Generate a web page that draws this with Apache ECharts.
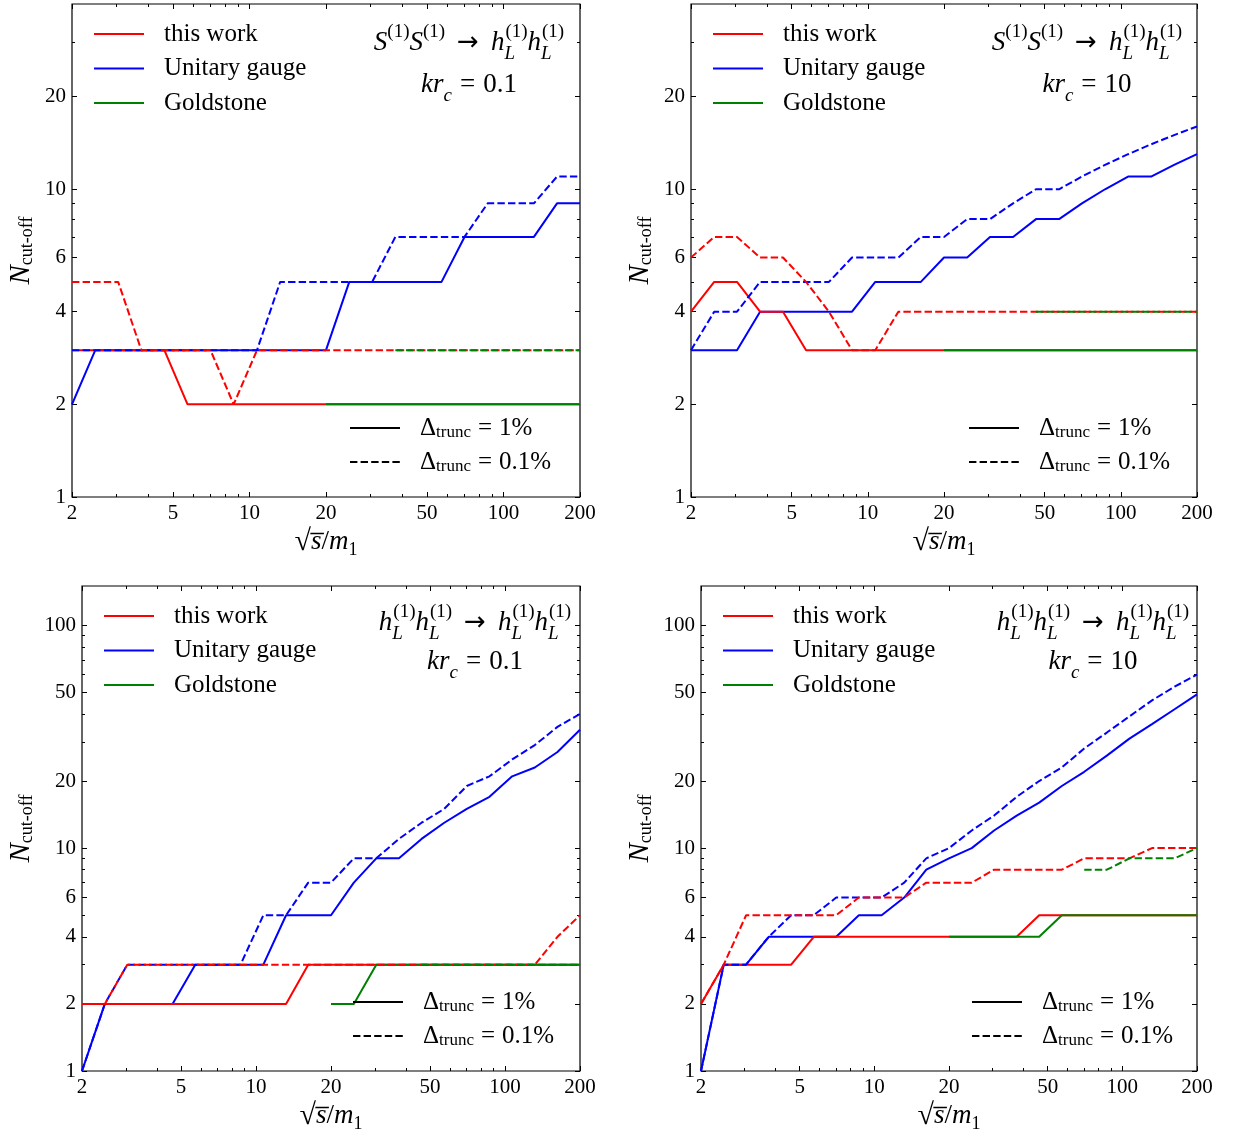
<!DOCTYPE html>
<html>
<head>
<meta charset="utf-8">
<script src="https://cdn.jsdelivr.net/npm/echarts@6/dist/echarts.min.js"></script>
<style>
html, body { margin: 0; padding: 0; background: #ffffff; }
#chart { width: 1233px; height: 1140px; }
</style>
</head>
<body>
<div id="chart"></div>
<script>
// ---------------- data ----------------
// sqrt(s)/m1 sample points (shared by all panels)
const xs = [2, 2.47, 3.04, 3.75, 4.62, 5.70, 7.02, 8.66, 10.7, 13.2, 16.2, 20, 24.7, 30.4, 37.5, 46.2, 57.0, 70.2, 86.6, 106.8, 131.7, 162.4, 200];

// tick values
const xMajorTicks = [2, 5, 10, 20, 50, 100, 200];
const xMinorTicks = [3, 4, 6, 7, 8, 9, 30, 40, 60, 70, 80, 90];
const yMajorTicksTop = [1, 2, 4, 6, 10, 20];
const yMinorTicksTop = [3, 5, 7, 8, 9, 30];
const yMajorTicksBottom = [1, 2, 4, 6, 10, 20, 50, 100];
const yMinorTicksBottom = [3, 5, 7, 8, 9, 30, 40, 60, 70, 80, 90];

// Panel A: S(1)S(1) -> hL hL, kr_c = 0.1
const ssLow_thisWork_1 = [3,3,3,3,3,2,2,2,2,2,2,2,2,2,2,2,2,2,2,2,2,2,2];
const ssLow_thisWork_01 = [5,5,5,3,3,3,3,2,3,3,3,3,3,3,3,3,3,3,3,3,3,3,3];
const ssLow_unitary_1 = [2,3,3,3,3,3,3,3,3,3,3,3,5,5,5,5,5,7,7,7,7,9,9];
const ssLow_unitary_01 = [3,3,3,3,3,3,3,3,3,5,5,5,5,5,7,7,7,7,9,9,9,11,11];
const ssLow_goldstone_1 = [null,null,null,null,null,null,null,null,null,null,null,2,2,2,2,2,2,2,2,2,2,2,2];
const ssLow_goldstone_01 = [null,null,null,null,null,null,null,null,null,null,null,null,null,null,3,3,3,3,3,3,3,3,3];

// Panel B: S(1)S(1) -> hL hL, kr_c = 10
const ssHigh_thisWork_1 = [4,5,5,4,4,3,3,3,3,3,3,3,3,3,3,3,3,3,3,3,3,3,3];
const ssHigh_thisWork_01 = [6,7,7,6,6,5,4,3,3,4,4,4,4,4,4,4,4,4,4,4,4,4,4];
const ssHigh_unitary_1 = [3,3,3,4,4,4,4,4,5,5,5,6,6,7,7,8,8,9,10,11,11,12,13];
const ssHigh_unitary_01 = [3,4,4,5,5,5,5,6,6,6,7,7,8,8,9,10,10,11,12,13,14,15,16];
const ssHigh_goldstone_1 = [null,null,null,null,null,null,null,null,null,null,null,3,3,3,3,3,3,3,3,3,3,3,3];
const ssHigh_goldstone_01 = [null,null,null,null,null,null,null,null,null,null,null,null,null,null,null,4,4,4,4,4,4,4,4];

// Panel C: hL hL -> hL hL, kr_c = 0.1
const hhLow_thisWork_1 = [2,2,2,2,2,2,2,2,2,2,3,3,3,3,3,3,3,3,3,3,3,3,3];
const hhLow_thisWork_01 = [2,2,3,3,3,3,3,3,3,3,3,3,3,3,3,3,3,3,3,3,3,4,5];
const hhLow_unitary_1 = [1,2,2,2,2,3,3,3,3,5,5,5,7,9,9,11,13,15,17,21,23,27,34];
const hhLow_unitary_01 = [1,2,3,3,3,3,3,3,5,5,7,7,9,9,11,13,15,19,21,25,29,35,40];
const hhLow_goldstone_1 = [null,null,null,null,null,null,null,null,null,null,null,2,2,3,3,3,3,3,3,3,3,3,3];
const hhLow_goldstone_01 = [null,null,null,null,null,null,null,null,null,null,null,null,null,null,null,3,3,3,3,3,3,3,3];

// Panel D: hL hL -> hL hL, kr_c = 10
const hhHigh_thisWork_1 = [2,3,3,3,3,4,4,4,4,4,4,4,4,4,4,5,5,5,5,5,5,5,5];
const hhHigh_thisWork_01 = [2,3,5,5,5,5,5,6,6,6,7,7,7,8,8,8,8,9,9,9,10,10,10];
const hhHigh_unitary_1 = [1,3,3,4,4,4,4,5,5,6,8,9,10,12,14,16,19,22,26,31,36,42,49];
const hhHigh_unitary_01 = [1,3,3,4,5,5,6,6,6,7,9,10,12,14,17,20,23,28,33,39,46,53,60];
const hhHigh_goldstone_1 = [null,null,null,null,null,null,null,null,null,null,null,4,4,4,4,4,5,5,5,5,5,5,5];
const hhHigh_goldstone_01 = [null,null,null,null,null,null,null,null,null,null,null,null,null,null,null,null,null,8,8,9,9,9,10];

// text
const seriesNames = ['this work', 'Unitary gauge', 'Goldstone'];
const truncNames = ['Δ1', 'Δ01'];
const truncLabels = ['1%', '0.1%'];
const processSS = '{it|S}{sup|(1)}{it|S}{sup|(1)}{ar|→}{it|h}{subw|L}{sup|(1)}{it|h}{subw|L}{sup|(1)}';
const processHH = '{it|h}{subw|L}{sup|(1)}{it|h}{subw|L}{sup|(1)}{ar|→}{it|h}{subw|L}{sup|(1)}{it|h}{subw|L}{sup|(1)}';
const krLabels = ['0.1', '10', '0.1', '10'];

// ---------------- layout / style ----------------
const SERIF = "'Liberation Serif', 'DejaVu Serif', serif";
const DASH = [7.4, 3.2];
const RED = '#ff0000', BLUE = '#0000ff', GREEN = '#008000';

const panels = [
  { grid: { left: 72, top: 4, width: 508, height: 493 }, yMax: 40, yMajor: yMajorTicksTop, yMinor: yMinorTicksTop,
    red: [ssLow_thisWork_1, ssLow_thisWork_01], blue: [ssLow_unitary_1, ssLow_unitary_01], green: [ssLow_goldstone_1, ssLow_goldstone_01],
    proc: processSS, kr: krLabels[0], annX: 469, ann1Y: 43, ann2Y: 85, legX: 93, legY: 21, leg2X: 349, leg2Y: 415, yNameGap: 36 },
  { grid: { left: 691, top: 4, width: 506, height: 493 }, yMax: 40, yMajor: yMajorTicksTop, yMinor: yMinorTicksTop,
    red: [ssHigh_thisWork_1, ssHigh_thisWork_01], blue: [ssHigh_unitary_1, ssHigh_unitary_01], green: [ssHigh_goldstone_1, ssHigh_goldstone_01],
    proc: processSS, kr: krLabels[1], annX: 1087, ann1Y: 43, ann2Y: 85, legX: 712, legY: 21, leg2X: 968, leg2Y: 415, yNameGap: 36 },
  { grid: { left: 82, top: 586, width: 498, height: 485 }, yMax: 150, yMajor: yMajorTicksBottom, yMinor: yMinorTicksBottom,
    red: [hhLow_thisWork_1, hhLow_thisWork_01], blue: [hhLow_unitary_1, hhLow_unitary_01], green: [hhLow_goldstone_1, hhLow_goldstone_01],
    proc: processHH, kr: krLabels[2], annX: 475, ann1Y: 623, ann2Y: 662, legX: 103, legY: 603, leg2X: 352, leg2Y: 989, yNameGap: 46 },
  { grid: { left: 701, top: 586, width: 496, height: 485 }, yMax: 150, yMajor: yMajorTicksBottom, yMinor: yMinorTicksBottom,
    red: [hhHigh_thisWork_1, hhHigh_thisWork_01], blue: [hhHigh_unitary_1, hhHigh_unitary_01], green: [hhHigh_goldstone_1, hhHigh_goldstone_01],
    proc: processHH, kr: krLabels[3], annX: 1093, ann1Y: 623, ann2Y: 662, legX: 722, legY: 603, leg2X: 971, leg2Y: 989, yNameGap: 46 }
];

const tickStyle = { color: '#000', width: 1 };
const labelStyle = { color: '#000', fontFamily: SERIF, fontSize: 21 };

function xAxisCfg(g, pos, values, len, withLabels) {
  const a = {
    type: 'log', logBase: 10, gridIndex: g, position: pos, min: 2, max: 200,
    axisLine: { show: false }, splitLine: { show: false }, minorTick: { show: false },
    axisPointer: { show: false },
    axisTick: { show: true, inside: true, length: len, customValues: values, lineStyle: tickStyle },
    axisLabel: withLabels ? Object.assign({ show: true, customValues: values, margin: 6,
      formatter: v => String(Math.round(v)) }, labelStyle) : { show: false }
  };
  if (withLabels) {
    a.name = '{r|√}{o|s\u0305}{n|/}{i|m}{sub|1}';
    a.nameLocation = 'middle';
    a.nameGap = 28;
    a.nameTextStyle = {
      verticalAlign: 'top',
      rich: {
        r: { fontFamily: SERIF, fontSize: 30, lineHeight: 34, color: '#000' },
        o: { fontFamily: SERIF, fontStyle: 'italic', fontSize: 27, lineHeight: 34, color: '#000' },
        n: { fontFamily: SERIF, fontSize: 27, lineHeight: 34, color: '#000' },
        i: { fontFamily: SERIF, fontStyle: 'italic', fontSize: 27, lineHeight: 34, color: '#000' },
        sub: { fontFamily: SERIF, fontSize: 18, lineHeight: 20, verticalAlign: 'bottom', color: '#000' }
      }
    };
  }
  return a;
}

function yAxisCfg(g, pos, yMax, values, len, withLabels, nameGap) {
  const a = {
    type: 'log', logBase: 10, gridIndex: g, position: pos, min: 1, max: yMax,
    axisLine: { show: false }, splitLine: { show: false }, minorTick: { show: false },
    axisPointer: { show: false },
    axisTick: { show: true, inside: true, length: len, customValues: values, lineStyle: tickStyle },
    axisLabel: withLabels ? Object.assign({ show: true, customValues: values, margin: 6,
      formatter: v => String(Math.round(v)) }, labelStyle) : { show: false }
  };
  if (withLabels) {
    a.name = '{n|N}{s|cut-off}';
    a.nameLocation = 'middle';
    a.nameGap = nameGap;
    a.nameTextStyle = {
      rich: {
        n: { fontFamily: SERIF, fontStyle: 'italic', fontSize: 29, lineHeight: 30, color: '#000' },
        s: { fontFamily: SERIF, fontSize: 18, lineHeight: 18, verticalAlign: 'bottom', color: '#000' }
      }
    };
  }
  return a;
}

function toPairs(values) {
  const out = [];
  values.forEach((v, i) => { if (v !== null) out.push([xs[i], v]); });
  return out;
}

function lineSeries(name, color, dashed, values, axisIdx) {
  return {
    type: 'line', name: name, xAxisIndex: axisIdx, yAxisIndex: axisIdx,
    data: toPairs(values), symbol: 'none', showSymbol: false, clip: true, silent: true,
    itemStyle: { color: color, opacity: 0 },
    lineStyle: { color: color, width: 2, type: dashed ? DASH : 'solid' },
    emphasis: { disabled: true }
  };
}

const grids = [], xAxes = [], yAxes = [], series = [], legends = [], graphics = [];

const annRich = {
  it: { fontFamily: SERIF, fontStyle: 'italic', fontSize: 27, lineHeight: 40, verticalAlign: 'middle', align: 'left', fill: '#000' },
  rm: { fontFamily: SERIF, fontSize: 27, lineHeight: 40, verticalAlign: 'middle', align: 'left', fill: '#000' },
  eq: { fontFamily: SERIF, fontSize: 27, lineHeight: 40, verticalAlign: 'middle', align: 'left', fill: '#000', padding: [0, 8, 0, 8] },
  ar: { fontFamily: "'DejaVu Sans', sans-serif", fontSize: 26, lineHeight: 40, verticalAlign: 'middle', align: 'left', fill: '#000', padding: [0, 12, 0, 12] },
  sup: { fontFamily: SERIF, fontSize: 19, lineHeight: 20, verticalAlign: 'top', align: 'left', fill: '#000' },
  sub: { fontFamily: SERIF, fontStyle: 'italic', fontSize: 19, lineHeight: 25, verticalAlign: 'bottom', align: 'left', fill: '#000' },
  subw: { fontFamily: SERIF, fontStyle: 'italic', fontSize: 19, lineHeight: 25, verticalAlign: 'bottom', align: 'left', fill: '#000', width: 1 }
};

panels.forEach((p, g) => {
  grids.push(Object.assign({ show: true, borderColor: '#000', borderWidth: 1.2, backgroundColor: 'transparent',
    containLabel: false, outerBoundsMode: 'none' }, p.grid));
  const base = xAxes.length;
  xAxes.push(xAxisCfg(g, 'bottom', xMajorTicks, 5, true));
  xAxes.push(xAxisCfg(g, 'bottom', xMinorTicks, 3, false));
  xAxes.push(xAxisCfg(g, 'top', xMajorTicks, 5, false));
  xAxes.push(xAxisCfg(g, 'top', xMinorTicks, 3, false));
  yAxes.push(yAxisCfg(g, 'left', p.yMax, p.yMajor, 5, true, p.yNameGap));
  yAxes.push(yAxisCfg(g, 'left', p.yMax, p.yMinor, 3, false));
  yAxes.push(yAxisCfg(g, 'right', p.yMax, p.yMajor, 5, false));
  yAxes.push(yAxisCfg(g, 'right', p.yMax, p.yMinor, 3, false));

  // solid lines first, dashed on top
  series.push(lineSeries(seriesNames[1], BLUE, false, p.blue[0], base));
  series.push(lineSeries(seriesNames[0], RED, false, p.red[0], base));
  series.push(lineSeries(seriesNames[2], GREEN, false, p.green[0], base));
  series.push(lineSeries(seriesNames[1], BLUE, true, p.blue[1], base));
  series.push(lineSeries(seriesNames[0], RED, true, p.red[1], base));
  series.push(lineSeries(seriesNames[2], GREEN, true, p.green[1], base));

  legends.push({
    orient: 'vertical', left: p.legX, top: p.legY, padding: 0, itemGap: 8.5,
    itemWidth: 50, itemHeight: 14, selectedMode: false,
    itemStyle: { opacity: 0 },
    data: seriesNames.slice(),
    textStyle: { fontFamily: SERIF, fontSize: 25, lineHeight: 26, color: '#000', padding: [0, 0, 0, 15] }
  });
  legends.push({
    orient: 'vertical', left: p.leg2X, top: p.leg2Y, padding: 0, itemGap: 8,
    itemWidth: 50, itemHeight: 14, selectedMode: false,
    itemStyle: { opacity: 0 },
    data: truncNames.slice(),
    formatter: function (name) {
      const v = name === truncNames[0] ? truncLabels[0] : truncLabels[1];
      return '{d|Δ}{s|trunc}{e|=}{d|' + v + '}';
    },
    textStyle: {
      fontFamily: SERIF, fontSize: 25, lineHeight: 26, color: '#000', padding: [0, 0, 0, 15],
      rich: {
        d: { fontFamily: SERIF, fontSize: 25, lineHeight: 26, color: '#000' },
        e: { fontFamily: SERIF, fontSize: 25, lineHeight: 26, color: '#000', padding: [0, 7, 0, 7] },
        s: { fontFamily: SERIF, fontSize: 17, lineHeight: 12, verticalAlign: 'bottom', color: '#000' }
      }
    }
  });

  graphics.push({
    type: 'text', x: p.annX, y: p.ann1Y, silent: true, z: 100,
    style: { text: p.proc, rich: annRich, align: 'center', verticalAlign: 'middle', fill: '#000' }
  });
  graphics.push({
    type: 'text', x: p.annX, y: p.ann2Y, silent: true, z: 100,
    style: { text: '{it|kr}{sub|c}{eq|=}{rm|' + p.kr + '}', rich: annRich, align: 'center', verticalAlign: 'middle', fill: '#000' }
  });
});

// line-style legend entries (black)
series.push({
  type: 'line', name: truncNames[0], xAxisIndex: 0, yAxisIndex: 0, data: [], symbol: 'none', silent: true,
  itemStyle: { color: '#000', opacity: 0 }, lineStyle: { color: '#000', width: 2, type: 'solid' }
});
series.push({
  type: 'line', name: truncNames[1], xAxisIndex: 0, yAxisIndex: 0, data: [], symbol: 'none', silent: true,
  itemStyle: { color: '#000', opacity: 0 }, lineStyle: { color: '#000', width: 2, type: DASH }
});

const chart = echarts.init(document.getElementById('chart'), null, { renderer: 'canvas' });
chart.setOption({
  backgroundColor: '#ffffff',
  animation: false,
  grid: grids,
  xAxis: xAxes,
  yAxis: yAxes,
  legend: legends,
  series: series,
  graphic: { elements: graphics }
});
</script>
</body>
</html>
